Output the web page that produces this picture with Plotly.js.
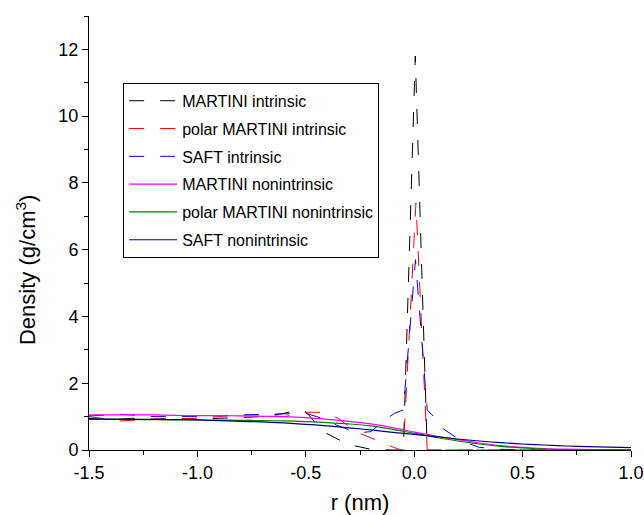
<!DOCTYPE html>
<html>
<head>
<meta charset="utf-8">
<script src="https://cdn.plot.ly/plotly-3.0.1.min.js"></script>
<style>html,body{margin:0;padding:0;background:#fff;}#chart{width:644px;height:515px;}</style>
</head>
<body>
<div id="chart"></div>
<script>
// ---- data ----
const seriesNames = ["MARTINI intrinsic", "polar MARTINI intrinsic", "SAFT intrinsic",
                     "MARTINI nonintrinsic", "polar MARTINI nonintrinsic", "SAFT nonintrinsic"];

const rMartiniIntr = [-1.5,-1.4,-1.3,-1.2,-1.1,-1.0,-0.9,-0.8,-0.7,-0.6,-0.55,-0.5,-0.46,-0.42,-0.33,-0.27,-0.2,-0.15,-0.1,-0.05,0.005,0.06,0.1,0.2,0.3,0.4,0.5,0.6,0.7,0.8,0.9,1.0];
const dMartiniIntr = [0.95,0.9,0.95,0.92,0.95,0.92,0.95,0.97,1.0,1.1,1.18,1.15,0.85,0.55,0.25,0.12,0.02,0.0,0.0,0.0,11.8,0.0,0.0,0.0,0.0,0.0,0.0,0.0,0.0,0.0,0.0,0.0];

const rPolarIntr = [-1.5,-1.35,-1.2,-1.1,-1.0,-0.9,-0.8,-0.7,-0.6,-0.5,-0.42,-0.35,-0.3,-0.25,-0.17,-0.11,-0.07,-0.05,0.008,0.06,0.1,0.2,0.3,0.4,0.5,0.6,0.7,0.8,0.9,1.0];
const dPolarIntr = [1.0,0.87,0.93,0.95,0.95,1.0,1.05,1.05,1.0,1.13,1.13,0.95,0.7,0.5,0.27,0.12,0.02,0.0,7.4,0.0,0.0,0.0,0.0,0.0,0.0,0.0,0.0,0.0,0.0,0.0];

const rSaftIntr = [-1.5,-1.35,-1.2,-1.0,-0.9,-0.8,-0.7,-0.6,-0.55,-0.5,-0.45,-0.4,-0.36,-0.3,-0.25,-0.2,-0.14,-0.09,-0.05,0.006,0.06,0.09,0.13,0.2,0.25,0.3,0.4,0.5,0.6,0.7,0.8,0.9,1.0];
const dSaftIntr = [1.02,1.07,1.0,1.0,1.03,1.05,1.05,1.08,1.1,1.1,1.0,0.9,0.75,0.6,0.52,0.55,0.88,1.1,1.2,5.7,1.2,1.0,0.65,0.35,0.2,0.08,0.02,0.0,0.0,0.0,0.0,0.0,0.0];

const rNonintr = [-1.5,-1.4,-1.3,-1.2,-1.1,-1.0,-0.9,-0.8,-0.7,-0.6,-0.5,-0.4,-0.3,-0.2,-0.1,0.0,0.1,0.2,0.3,0.4,0.5,0.6,0.7,0.8,0.9,1.0];
const dMartiniNon = [1.05,1.05,1.05,1.05,1.04,1.03,1.03,1.02,1.01,1.0,0.97,0.92,0.86,0.78,0.67,0.54,0.42,0.31,0.21,0.13,0.08,0.045,0.025,0.012,0.006,0.003];
const dPolarNon   = [0.92,0.92,0.915,0.91,0.905,0.9,0.895,0.89,0.88,0.87,0.85,0.82,0.78,0.72,0.62,0.5,0.38,0.27,0.18,0.11,0.06,0.03,0.015,0.008,0.004,0.002];
const dSaftNon    = [0.93,0.925,0.92,0.915,0.91,0.9,0.88,0.86,0.84,0.81,0.77,0.72,0.66,0.6,0.53,0.47,0.4,0.33,0.27,0.22,0.18,0.15,0.12,0.1,0.085,0.07];

const xTickVals = [-1.5,-1.0,-0.5,0.0,0.5,1.0];
const xTickText = ["-1.5","-1.0","-0.5","0.0","0.5","1.0"];
const yTickVals = [0,2,4,6,8,10,12];

// ---- traces ----
const dashPat = "15px,16px";
const traces = [
  {x: rMartiniIntr, y: dMartiniIntr, name: seriesNames[0], line: {color: "#000000", width: 1, dash: dashPat}},
  {x: rPolarIntr,   y: dPolarIntr,   name: seriesNames[1], line: {color: "#ff0000", width: 1, dash: dashPat}},
  {x: rSaftIntr,    y: dSaftIntr,    name: seriesNames[2], line: {color: "#0000ff", width: 1, dash: dashPat}},
  {x: rNonintr,     y: dMartiniNon,  name: seriesNames[3], line: {color: "#ff00ff", width: 1.2, shape: "spline"}},
  {x: rNonintr,     y: dPolarNon,    name: seriesNames[4], line: {color: "#008000", width: 1.2, shape: "spline"}},
  {x: rNonintr,     y: dSaftNon,     name: seriesNames[5], line: {color: "#000080", width: 1.2, shape: "spline"}}
].map((t, i) => Object.assign({type: "scatter", mode: "lines", legendgroup: "g" + i}, t));

const font = "Liberation Sans, Arial, sans-serif";
const layout = {
  width: 644, height: 515,
  margin: {l: 89, r: 13, t: 16, b: 65},
  paper_bgcolor: "#ffffff", plot_bgcolor: "#ffffff",
  font: {family: font, color: "#000000", size: 18},
  showlegend: true,
  legend: {x: 0.063, y: 0.846, xanchor: "left", yanchor: "top",
           bordercolor: "#000000", borderwidth: 1, bgcolor: "#ffffff",
           itemwidth: 48, tracegroupgap: 4, traceorder: "grouped",
           font: {family: font, size: 16, color: "#000000"}},
  xaxis: {range: [-1.5, 1.0], tickvals: xTickVals, ticktext: xTickText,
          ticks: "outside", ticklen: 6, tickwidth: 1, tickcolor: "#000",
          minor: {dtick: 0.25, ticks: "outside", ticklen: 4, tickcolor: "#000"},
          showline: true, linecolor: "#000", linewidth: 1, showgrid: false, zeroline: false,
          tickfont: {size: 18}, title: {text: "r (nm)", font: {size: 22}, standoff: 13}},
  yaxis: {range: [0, 13], tickvals: yTickVals,
          ticks: "outside", ticklen: 6, tickwidth: 1, tickcolor: "#000",
          minor: {dtick: 1, ticks: "outside", ticklen: 4, tickcolor: "#000"},
          showline: true, linecolor: "#000", linewidth: 1, showgrid: false, zeroline: false,
          tickfont: {size: 18}},
  xaxis2: {overlaying: "x", side: "top", anchor: "y", range: [-1.5, 1.0], tickvals: xTickVals,
           ticks: "inside", ticklen: 6, tickcolor: "#000", showticklabels: false,
           minor: {dtick: 0.25, ticks: "inside", ticklen: 3, tickcolor: "#000"},
           showline: false, showgrid: false, zeroline: false},
  yaxis2: {overlaying: "y", side: "right", anchor: "x", range: [0, 13], tickvals: yTickVals,
           ticks: "inside", ticklen: 6, tickcolor: "#000", showticklabels: false,
           minor: {dtick: 1, ticks: "inside", ticklen: 3, tickcolor: "#000"},
           showline: true, linecolor: "#000", linewidth: 1, showgrid: false, zeroline: false},
  annotations: [{text: "Density (g/cm<sup>3</sup>)", textangle: -90, xref: "paper", yref: "paper",
                 x: -0.116, y: 0.415, xanchor: "center", yanchor: "middle", showarrow: false,
                 font: {family: font, size: 22, color: "#000"}}]
};

Plotly.newPlot("chart", traces, layout, {displayModeBar: false, staticPlot: true});
</script>
</body>
</html>
